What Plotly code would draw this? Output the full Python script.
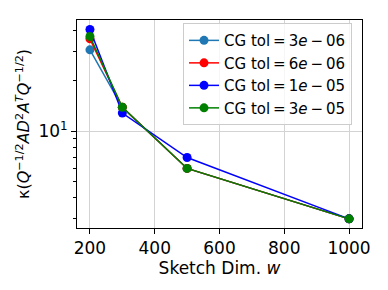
import plotly.graph_objects as go

x_vals = [200, 300, 500, 1000]
tol_labels = ["3<i>e</i>\u2009−\u200906", "6<i>e</i>\u2009−\u200906", "1<i>e</i>\u2009−\u200905", "3<i>e</i>\u2009−\u200905"]
kappa_3e06 = [30.6, 13.9, 6.0, 3.0]
kappa_6e06 = [35.6, 13.9, 6.0, 3.0]
kappa_1e05 = [40.5, 12.85, 6.97, 3.0]
kappa_3e05 = [36.8, 13.9, 6.0, 3.0]
series = [kappa_3e06, kappa_6e06, kappa_1e05, kappa_3e05]
colors = ["#1f77b4", "#ff0000", "#0000ff", "#008000"]

x_ticks = [200, 400, 600, 800, 1000]
y_major = [10]
y_minor = [3, 4, 5, 6, 7, 8, 9, 20, 30, 40]

fig = go.Figure()
for lab, ys, c in zip(tol_labels, series, colors):
    fig.add_trace(go.Scatter(
        x=x_vals, y=ys, mode="lines+markers",
        name="CG tol\u2009=\u2009" + lab,
        line=dict(color=c, width=1.5),
        marker=dict(color=c, size=9),
    ))

font = "DejaVu Sans"
fig.update_layout(
    width=388, height=290,
    margin=dict(l=77, r=26, t=20, b=62),
    paper_bgcolor="white", plot_bgcolor="white",
    font=dict(family=font, size=16, color="black"),
    showlegend=True,
    legend=dict(
        x=0.372, y=0.985, xanchor="left", yanchor="top",
        bgcolor="rgba(255,255,255,0.8)", bordercolor="#cccccc", borderwidth=1,
        font=dict(size=15), tracegroupgap=0, itemwidth=30,
    ),
)
fig.update_xaxes(
    range=[160, 1040], tickvals=x_ticks, ticks="outside", ticklen=5,
    tickcolor="black", showline=True, linecolor="black", linewidth=1, mirror=True,
    showgrid=True, gridcolor="#d3d3d3", gridwidth=1, zeroline=False,
    title=dict(text="Sketch Dim. <i>w</i>", font=dict(size=17), standoff=2),
    tickfont=dict(size=17), automargin=False,
)
fig.update_yaxes(
    type="log", range=[0.4226, 1.664],
    tickvals=y_major, ticktext=["10<sup>1</sup>"], ticks="outside", ticklen=5,
    tickcolor="black", showline=True, linecolor="black", linewidth=1, mirror=True,
    showgrid=True, gridcolor="#d3d3d3", gridwidth=1, zeroline=False,
    minor=dict(tickvals=y_minor, ticks="outside", ticklen=3, tickcolor="black", showgrid=False),
    title=dict(text="κ(<i>Q</i><sup>−1/2</sup><i>AD</i><sup>2</sup><i>A</i><sup><i>T</i></sup><i>Q</i><sup>−1/2</sup>)",
               font=dict(size=16), standoff=4),
    tickfont=dict(size=17), automargin=False,
)
fig.write_html("out.html", config={"displayModeBar": False},
               post_script="document.body.style.margin='0';document.body.style.padding='0';")
